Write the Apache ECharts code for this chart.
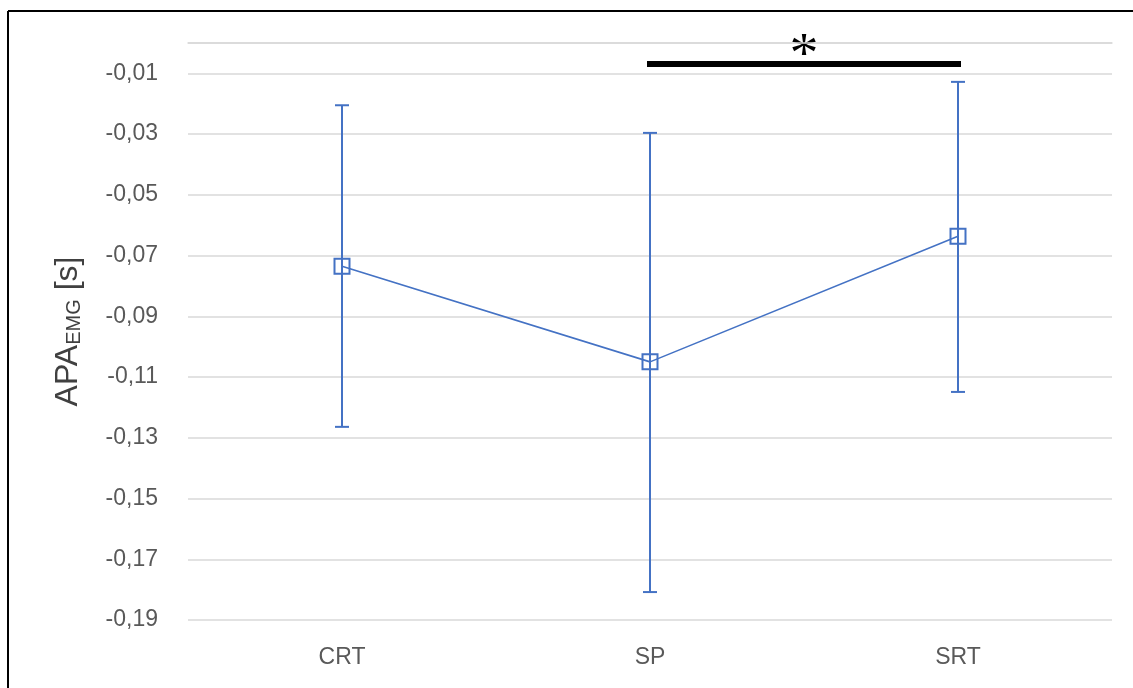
<!DOCTYPE html>
<html>
<head>
<meta charset="utf-8">
<script src="https://cdn.jsdelivr.net/npm/echarts@6/dist/echarts.min.js"></script>
<style>
  html, body { margin: 0; padding: 0; background: #ffffff; }
  #chart { width: 1133px; height: 688px; }
</style>
</head>
<body>
<div id="chart"></div>
<script>
// ---- data ----
const categories = ['CRT', 'SP', 'SRT'];
const means = [-0.0735, -0.1050, -0.0636];
const errLow = [-0.1264, -0.1808, -0.1149];
const errHigh = [-0.0205, -0.0296, -0.0128];
const sigFrom = 'SP';
const sigTo = 'SRT';
const sigLevel = -0.0069;
const sigText = '*';
const yMin = -0.19, yMax = 0, yStep = 0.02;

const blue = '#4472C4';
const chart = echarts.init(document.getElementById('chart'), null, { renderer: 'canvas' });

const errData = categories.map((c, i) => [i, errLow[i], errHigh[i]]);

const option = {
  animation: false,
  backgroundColor: '#ffffff',
  grid: { left: 188, right: 21, top: 43, bottom: 68, containLabel: false },
  xAxis: {
    type: 'category',
    data: categories,
    boundaryGap: true,
    axisLine: { show: true, lineStyle: { color: '#D9D9D9', width: 1.5 } },
    axisTick: { show: false },
    axisLabel: { color: '#595959', fontSize: 23, fontFamily: 'Liberation Sans', margin: 26 },
    splitLine: { show: false }
  },
  yAxis: {
    type: 'value',
    min: yMin, max: yMax, interval: yStep,
    axisLine: { show: false },
    axisTick: { show: false },
    axisLabel: {
      color: '#595959', fontSize: 23, fontFamily: 'Liberation Sans', margin: 30,
      showMaxLabel: false,
      formatter: v => v.toFixed(2).replace('.', ',')
    },
    splitLine: { show: true, lineStyle: { color: '#D9D9D9', width: 1.5 } },
    name: '{a|APA}{b|EMG}{a| [s]}',
    nameLocation: 'middle',
    nameGap: 104,
    nameRotate: 90,
    nameTextStyle: {
      color: '#404040',
      fontFamily: 'Liberation Sans',
      rich: {
        a: { fontSize: 32, lineHeight: 42, verticalAlign: 'bottom', color: '#404040', fontFamily: 'Liberation Sans' },
        b: { fontSize: 20, lineHeight: 21, verticalAlign: 'bottom', color: '#404040', fontFamily: 'Liberation Sans' }
      }
    }
  },
  series: [
    {
      type: 'custom',
      name: 'err',
      data: errData,
      z: 2,
      renderItem: function (params, api) {
        const x = api.coord([api.value(0), api.value(1)])[0];
        const yLo = api.coord([api.value(0), api.value(1)])[1];
        const yHi = api.coord([api.value(0), api.value(2)])[1];
        const hw = 7;
        const st = { stroke: blue, lineWidth: 2 };
        return {
          type: 'group',
          children: [
            { type: 'line', shape: { x1: x, y1: yHi, x2: x, y2: yLo }, style: st },
            { type: 'line', shape: { x1: x - hw, y1: yHi, x2: x + hw, y2: yHi }, style: st },
            { type: 'line', shape: { x1: x - hw, y1: yLo, x2: x + hw, y2: yLo }, style: st }
          ]
        };
      }
    },
    {
      type: 'line',
      name: 'mean',
      data: means,
      z: 3,
      symbol: 'rect',
      symbolSize: 15,
      lineStyle: { color: blue, width: 1.6 },
      itemStyle: { color: 'rgba(0,0,0,0)', borderColor: blue, borderWidth: 2 }
    },
    {
      type: 'line',
      name: 'sig',
      data: [[sigFrom, sigLevel], [sigTo, sigLevel]],
      z: 4,
      symbol: 'none',
      lineStyle: { color: '#000000', width: 6, cap: 'square' }
    }
  ]
};
chart.setOption(option);

const p1 = chart.convertToPixel({ gridIndex: 0 }, [sigFrom, sigLevel]);
const p2 = chart.convertToPixel({ gridIndex: 0 }, [sigTo, sigLevel]);
chart.setOption({
  graphic: [
    { type: 'line', shape: { x1: 8, y1: 11, x2: 1133, y2: 11 }, style: { stroke: '#000', lineWidth: 2 } },
    { type: 'line', shape: { x1: 8, y1: 11, x2: 8, y2: 688 }, style: { stroke: '#000', lineWidth: 2 } },
    {
      type: 'text',
      x: (p1[0] + p2[0]) / 2,
      y: p1[1] - 7,
      style: {
        text: sigText,
        font: '58px "Liberation Serif"',
        fill: '#000',
        textAlign: 'center',
        textVerticalAlign: 'middle'
      }
    }
  ]
});
</script>
</body>
</html>
